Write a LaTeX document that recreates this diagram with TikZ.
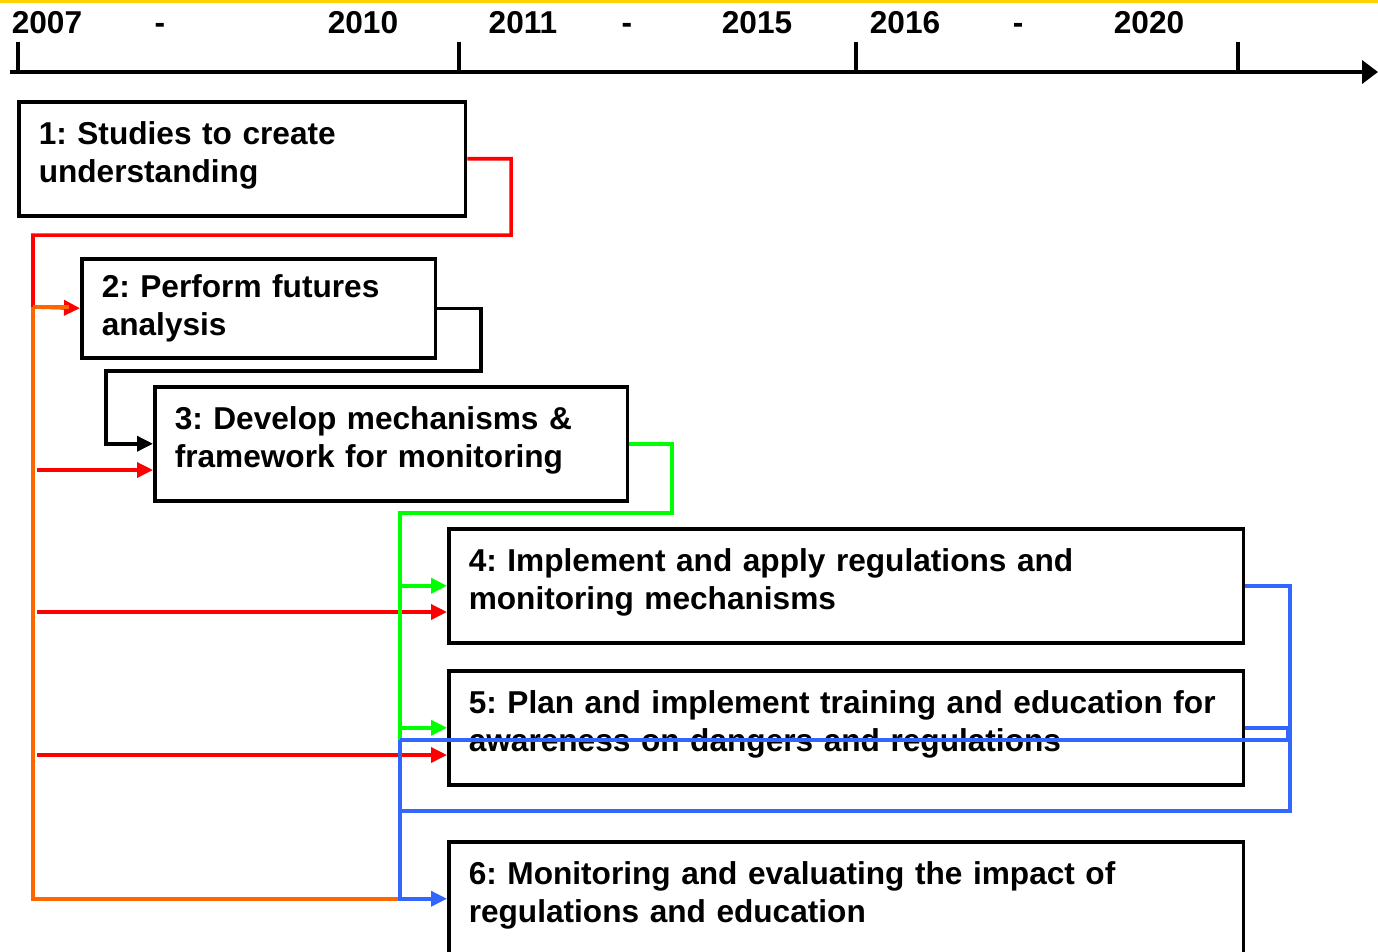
\documentclass[tikz,border=0pt]{standalone}
\usepackage{fontspec}
\setmainfont{Liberation Sans}
\usetikzlibrary{arrows.meta}
\definecolor{linkred}{RGB}{255,0,0}
\definecolor{linkorange}{RGB}{255,102,0}
\definecolor{linkgreen}{RGB}{0,255,0}
\definecolor{linkblue}{RGB}{51,102,255}
\definecolor{topyellow}{RGB}{255,210,0}
\frenchspacing
\begin{document}
\begin{tikzpicture}[x=0.02cm,y=-0.02cm,
    font=\fontsize{18}{21.5}\selectfont\bfseries,
    box/.style={draw, line width=2pt, align=left, anchor=north west,
      inner xsep=0.4cm, minimum height=2.28cm, text width=#1},
    lift/.style={execute at end node={\endgraf\vspace{0.14cm}}},
    link/.style={line width=2pt},
    arr/.style={-{Triangle[length=0.32cm,width=0.3cm]}},
    year/.style={anchor=base}]
                \useasboundingbox (0,0) rectangle (1378,951);
                % Top rule
                \draw[topyellow, line width=1.7pt] (0,1.5) -- (1378,1.5);
                % Timeline
                \draw[line width=2.5pt, -{Triangle[length=0.32cm,width=0.46cm]}] (10,72) -- (1378,72);
                \draw[line width=2pt] (18,42) -- (18,72);
                \draw[line width=2pt] (459,42) -- (459,72);
                \draw[line width=2pt] (856,42) -- (856,72);
                \draw[line width=2pt] (1238,42) -- (1238,72);
                \node[year] (y07) at (47,33) {2007};
                \node[year] (d1) at (160,33) {-};
                \node[year] (y10) at (363,33) {2010};
                \node[year] (y11) at (523,33) {2011};
                \node[year] (d2) at (627,33) {-};
                \node[year] (y15) at (757,33) {2015};
                \node[year] (y16) at (905,33) {2016};
                \node[year] (d3) at (1018,33) {-};
                \node[year] (y20) at (1149,33) {2020};
                % Boxes
                \node[box=8.14cm, lift] (s1) at (17,100) {1: Studies to create\\understanding};
                \node[box=6.28cm, minimum height=1.98cm] (s2) at (80,257) {2: Perform futures\\analysis};
                \node[box=8.66cm, lift] (s3) at (153,385) {3: Develop mechanisms \&\\framework for monitoring};
                \node[box=15.1cm, lift] (s4) at (447,527) {4: Implement and apply regulations and\\monitoring mechanisms};
                \node[box=15.1cm, lift] (s5) at (447,669) {5: Plan and implement training and education for\\awareness on dangers and regulations};
                \node[box=15.1cm, lift] (s6) at (447,840) {6: Monitoring and evaluating the impact of\\regulations and education};
                % Joints
                \coordinate (rj) at (33,307);
                \coordinate (gj) at (400,740);
                \coordinate (r3) at (37,470);
                \coordinate (r4) at (37,612);
                \coordinate (r5) at (37,755);
                % Red links
                \draw[link, linkred, arr] (s1.east) -| (511,235) -| (rj) -- (s2.west);
                \draw[link, linkred, arr] (r3) -- (r3 -| s3.west);
                \draw[link, linkred, arr] (r4) -- (r4 -| s4.west);
                \draw[link, linkred, arr] (r5) -- (r5 -| s5.west);
                % Orange link
                \draw[link, linkorange] (rj) -- ++(36,0);
                \draw[link, linkorange] (rj) |- (gj |- s6.west);
                % Black link
                \draw[link, arr] (s2.east) -| (481,371) -| (s3.west -| 106,0) -- (s3.west);
                % Green links
                \draw[link, linkgreen] (s3.east) -| (672,513) -| (gj);
                \draw[link, linkgreen, arr] (gj |- s4.west) -- (s4.west);
                \draw[link, linkgreen, arr] (gj |- s5.west) -- (s5.west);
                % Blue links
                \draw[link, linkblue] (s4.east) -| (1290,811) -- (gj |- 0,811);
                \draw[link, linkblue] (s5.east) -| (1288,740) -- (gj);
                \draw[link, linkblue, arr] (gj) |- (s6.west);
              \end{tikzpicture}
\end{document}
